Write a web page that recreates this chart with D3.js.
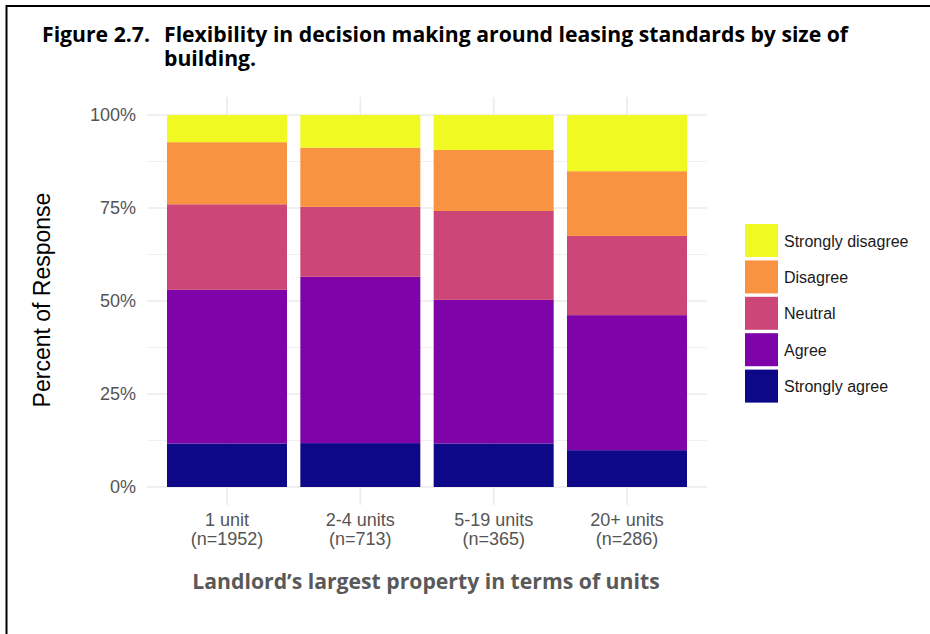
<!DOCTYPE html>
<meta charset="utf-8" />
<head>
  <style>
    body { margin: 0; background: #fff; }
    svg { display: block; }
  </style>
  <script src="https://d3js.org/d3.v7.min.js"></script>
</head>
<body>
  <svg width="930" height="634"></svg>
  <script>
    // data (percent of responses)
    const categories = ["1 unit", "2-4 units", "5-19 units", "20+ units"];
    const counts = ["(n=1952)", "(n=713)", "(n=365)", "(n=286)"];
    const levels = ["Strongly agree", "Agree", "Neutral", "Disagree", "Strongly disagree"];
    const stronglyAgree = [11.7, 11.8, 11.7, 9.9];
    const agree = [41.3, 44.7, 38.6, 36.3];
    const neutral = [23.0, 18.8, 23.9, 21.3];
    const disagree = [16.7, 15.9, 16.4, 17.4];
    const stronglyDisagree = [7.3, 8.8, 9.4, 15.1];
    const yTicks = [0, 25, 50, 75, 100];
    const yMinor = [12.5, 37.5, 62.5, 87.5];
    const colors = ["#0d0887", "#7e03a8", "#cc4778", "#f89441", "#f0f921"];

    const series = [stronglyAgree, agree, neutral, disagree, stronglyDisagree];
    const rows = categories.map((c, i) => {
      const r = { cat: c };
      levels.forEach((l, j) => { r[l] = series[j][i]; });
      return r;
    });

    const svg = d3.select("svg");

    // frame lines (top + left)
    svg.append("line").attr("x1", 6).attr("x2", 930).attr("y1", 6).attr("y2", 6)
      .attr("stroke", "#000").attr("stroke-width", 2);
    svg.append("line").attr("x1", 6.5).attr("x2", 6.5).attr("y1", 5).attr("y2", 634)
      .attr("stroke", "#000").attr("stroke-width", 2);

    // title
    function titleText(tx, ty, s) {
      svg.append("text")
        .attr("x", tx).attr("y", ty)
        .attr("font-family", "Open Sans")
        .attr("font-weight", "bold")
        .attr("font-size", 21.2)
        .attr("fill", "#000")
        .text(s);
    }
    titleText(42, 42, "Figure 2.7.");
    titleText(164, 42, "Flexibility in decision making around leasing standards by size of");
    titleText(164, 66, "building.");

    const pLeft = 147, pRight = 707, pTop = 97, pBottom = 505;

    const x = d3.scaleBand()
      .domain(categories)
      .range([pLeft, pRight])
      .paddingInner(0.1)
      .paddingOuter(0.15);

    const y = d3.scaleLinear()
      .domain([0, 100])
      .range([487, 115]);

    const g = svg.append("g");

    // gridlines
    g.selectAll(".minor").data(yMinor).enter().append("line")
      .attr("x1", pLeft).attr("x2", pRight)
      .attr("y1", d => y(d)).attr("y2", d => y(d))
      .attr("stroke", "#f0f0f0").attr("stroke-width", 1);
    g.selectAll(".major").data(yTicks).enter().append("line")
      .attr("x1", pLeft).attr("x2", pRight)
      .attr("y1", d => y(d)).attr("y2", d => y(d))
      .attr("stroke", "#ebebeb").attr("stroke-width", 1.6);
    g.selectAll(".vgrid").data(categories).enter().append("line")
      .attr("x1", d => x(d) + x.bandwidth() / 2).attr("x2", d => x(d) + x.bandwidth() / 2)
      .attr("y1", pTop).attr("y2", pBottom)
      .attr("stroke", "#ebebeb").attr("stroke-width", 1.6);

    // stacked bars
    const stack = d3.stack().keys(levels)(rows);
    g.selectAll(".layer")
      .data(stack)
      .enter().append("g")
      .attr("fill", (d, i) => colors[i])
      .selectAll("rect")
      .data(d => d)
      .enter().append("rect")
      .attr("x", d => x(d.data.cat))
      .attr("width", x.bandwidth())
      .attr("y", d => y(d[1]))
      .attr("height", d => y(d[0]) - y(d[1]));

    // y axis labels
    const yAxis = g.append("g")
      .attr("transform", "translate(" + (pLeft - 4) + ",0)")
      .call(d3.axisLeft(y).tickValues(yTicks).tickFormat(d => d + "%").tickSize(0).tickPadding(7));
    yAxis.select(".domain").remove();
    yAxis.selectAll("text")
      .attr("font-family", "Liberation Sans, Arial, sans-serif")
      .attr("font-size", 18)
      .attr("fill", "#555");

    // x axis labels (two lines)
    const xl = g.selectAll(".xlab").data(categories).enter().append("text")
      .attr("text-anchor", "middle")
      .attr("font-family", "Liberation Sans, Arial, sans-serif")
      .attr("font-size", 18)
      .attr("fill", "#555");
    xl.append("tspan")
      .attr("x", d => x(d) + x.bandwidth() / 2).attr("y", 525.5)
      .text(d => d);
    xl.append("tspan")
      .attr("x", d => x(d) + x.bandwidth() / 2).attr("y", 545)
      .text((d, i) => counts[i]);

    // axis titles
    svg.append("text")
      .attr("transform", "translate(50,300) rotate(-90)")
      .attr("text-anchor", "middle")
      .attr("font-family", "Liberation Sans, Arial, sans-serif")
      .attr("font-size", 23)
      .attr("fill", "#000")
      .text("Percent of Response");

    svg.append("text")
      .attr("x", 426).attr("y", 589)
      .attr("text-anchor", "middle")
      .attr("font-family", "Open Sans")
      .attr("font-weight", "bold")
      .attr("font-size", 21.2)
      .attr("fill", "#595959")
      .text("Landlord\u2019s largest property in terms of units");

    // legend (top entry = Strongly disagree)
    const legendOrder = levels.slice().reverse();
    const lg = svg.append("g").attr("transform", "translate(745,224)");
    const item = lg.selectAll(".item").data(legendOrder).enter().append("g")
      .attr("transform", (d, i) => "translate(0," + i * 36.4 + ")");
    item.append("rect")
      .attr("width", 33).attr("height", 33)
      .attr("fill", d => colors[levels.indexOf(d)]);
    item.append("text")
      .attr("x", 39).attr("y", 17).attr("dy", "0.35em")
      .attr("font-family", "Liberation Sans, Arial, sans-serif")
      .attr("font-size", 16)
      .attr("fill", "#1a1a1a")
      .text(d => d);
  </script>
</body>
